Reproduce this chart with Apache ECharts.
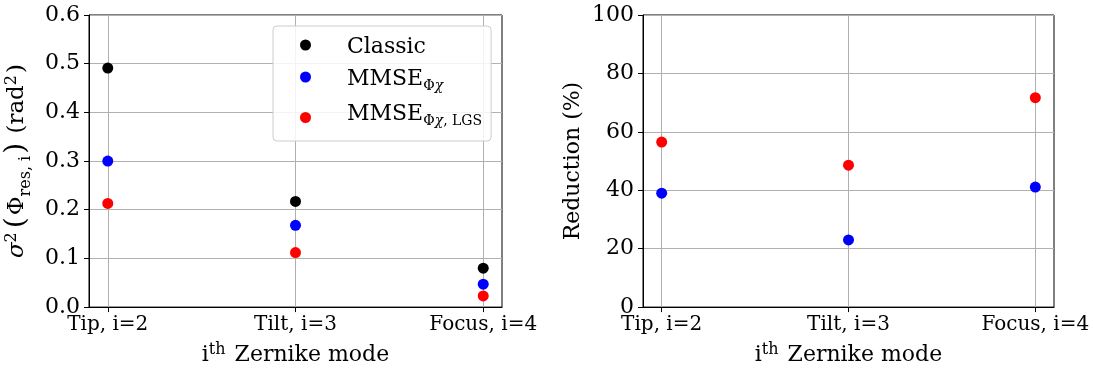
<!DOCTYPE html>
<html>
<head>
<meta charset="utf-8">
<script src="https://cdn.jsdelivr.net/npm/echarts@6/dist/echarts.min.js"></script>
<style>
html,body{margin:0;padding:0;background:#fff;}
#c{width:1093px;height:371px;}
</style>
</head>
<body>
<div id="c"></div>
<script>
// ---- data ----
const categories = ['Tip, i=2', 'Tilt, i=3', 'Focus, i=4'];
const classicVar = [0.491, 0.217, 0.080];
const mmseVar = [0.300, 0.168, 0.047];
const mmseLgsVar = [0.213, 0.112, 0.023];
const mmseReduction = [39.0, 23.0, 41.1];
const mmseLgsReduction = [56.5, 48.6, 71.7];
const leftTicks = [0.0, 0.1, 0.2, 0.3, 0.4, 0.5, 0.6];
const rightTicks = [0, 20, 40, 60, 80, 100];
const seriesNames = ['Classic', 'MMSE_PhiChi', 'MMSE_PhiChi_LGS'];

const FONT = 'DejaVu Serif';
const toXY = arr => arr.map((v, i) => [i, v]);
const catIdx = categories.map((c, i) => i);

function frag(fs, extra) {
  return Object.assign({fontFamily: FONT, fontSize: fs, color: '#000', verticalAlign: 'top'}, extra);
}
function makeRich(fs, ss) {
  const lh = Math.round(fs * 1.2);
  const subTop = Math.round(fs * 0.68);
  return {
    m: frag(fs, {lineHeight: lh, padding: [4, 0, 0, 0]}),
    mi: frag(fs, {fontStyle: 'italic', lineHeight: lh, padding: [4, 0, 0, 0]}),
    big: frag(fs + 5, {lineHeight: lh + 6, padding: [1, 2, 0, 2]}),
    sub: frag(ss, {lineHeight: ss + 2, padding: [subTop, 0, 0, 0]}),
    subi: frag(ss, {fontStyle: 'italic', lineHeight: ss + 2, padding: [subTop, 0, 0, 0]}),
    sup: frag(ss, {lineHeight: ss + 2, padding: [2, 2, 0, 0]}),
    sp: frag(ss, {lineHeight: 37, padding: [0, 0, 0, 0]})
  };
}
const axisRich = makeRich(22, 16);
const yNameRich = makeRich(23, 16);
const legendRich = makeRich(22, 14);

function xAxisCfg(gi) {
  return {
    gridIndex: gi, type: 'value', min: -0.1, max: 2.1,
    name: '{m|i}{sup|th}{m| Zernike mode}', nameLocation: 'middle', nameGap: 27,
    nameTextStyle: {rich: axisRich},
    axisLine: {show: true, onZero: false, lineStyle: {color: '#000', width: 1}},
    axisTick: {show: true, customValues: catIdx, length: 5, lineStyle: {color: '#000'}},
    axisLabel: {customValues: catIdx, margin: 8, color: '#000', fontFamily: FONT, fontSize: 20,
      formatter: v => categories[Math.round(v)]},
    splitLine: {show: true, lineStyle: {color: '#b0b0b0', width: 1}}
  };
}

function yAxisCfg(gi, ticks, name, gap, fmt, richStyle) {
  return {
    gridIndex: gi, type: 'value', min: ticks[0], max: ticks[ticks.length - 1],
    interval: ticks[1] - ticks[0],
    name: name, nameLocation: 'middle', nameGap: gap, nameRotate: 90,
    nameTextStyle: {rich: richStyle, fontFamily: FONT, fontSize: 22, color: '#000'},
    axisLine: {show: true, onZero: false, lineStyle: {color: '#000', width: 1}},
    axisTick: {show: true, length: 5, lineStyle: {color: '#000'}},
    axisLabel: {margin: 9, color: '#000', fontFamily: FONT, fontSize: 22, formatter: fmt},
    splitLine: {show: true, lineStyle: {color: '#b0b0b0', width: 1}}
  };
}

function scatter(name, data, color, xi, yi) {
  return {
    type: 'scatter', name: name, xAxisIndex: xi, yAxisIndex: yi,
    data: toXY(data), symbol: 'circle', symbolSize: 11,
    itemStyle: {color: color, opacity: 1}, silent: true, z: 5
  };
}

const legendFmt = {
  'Classic': '{m|Classic}',
  'MMSE_PhiChi': '{m|MMSE}{sub|Φ}{subi|χ}',
  'MMSE_PhiChi_LGS': '{sp|}{m|MMSE}{sub|Φ}{subi|χ}{sub|, LGS}'
};

const option = {
  animation: false,
  backgroundColor: '#fff',
  grid: [
    {left: 89, top: 15, width: 413, height: 295, show: true, borderColor: '#000', borderWidth: 1, backgroundColor: 'transparent'},
    {left: 643, top: 15, width: 411, height: 295, show: true, borderColor: '#000', borderWidth: 1, backgroundColor: 'transparent'}
  ],
  xAxis: [xAxisCfg(0), xAxisCfg(1)],
  yAxis: [
    yAxisCfg(0, leftTicks, '{mi|σ}{sup|2}{big|(}{m|Φ}{sub|res, i}{big|)}{m| (rad}{sup|2}{m|)}', 53, v => v.toFixed(1), yNameRich),
    yAxisCfg(1, rightTicks, '{m|Reduction (%)}', 59, v => String(Math.round(v)), axisRich)
  ],
  legend: {
    data: seriesNames,
    orient: 'vertical', left: 273, top: 26,
    padding: [6, 9, 13, 27], itemGap: 6,
    itemWidth: 11, itemHeight: 11, icon: 'circle',
    backgroundColor: 'rgba(255,255,255,0.85)', borderColor: '#cccccc', borderWidth: 1, borderRadius: 4,
    selectedMode: false,
    formatter: n => legendFmt[n],
    textStyle: {rich: legendRich, padding: [0, 0, 0, 31]}
  },
  series: [
    scatter('Classic', classicVar, '#000000', 0, 0),
    scatter('MMSE_PhiChi', mmseVar, '#0000ff', 0, 0),
    scatter('MMSE_PhiChi_LGS', mmseLgsVar, '#ff0000', 0, 0),
    scatter('MMSE_PhiChi', mmseReduction, '#0000ff', 1, 1),
    scatter('MMSE_PhiChi_LGS', mmseLgsReduction, '#ff0000', 1, 1)
  ]
};
const chart = echarts.init(document.getElementById('c'), null, {renderer: 'canvas'});
chart.setOption(option);
</script>
</body>
</html>
